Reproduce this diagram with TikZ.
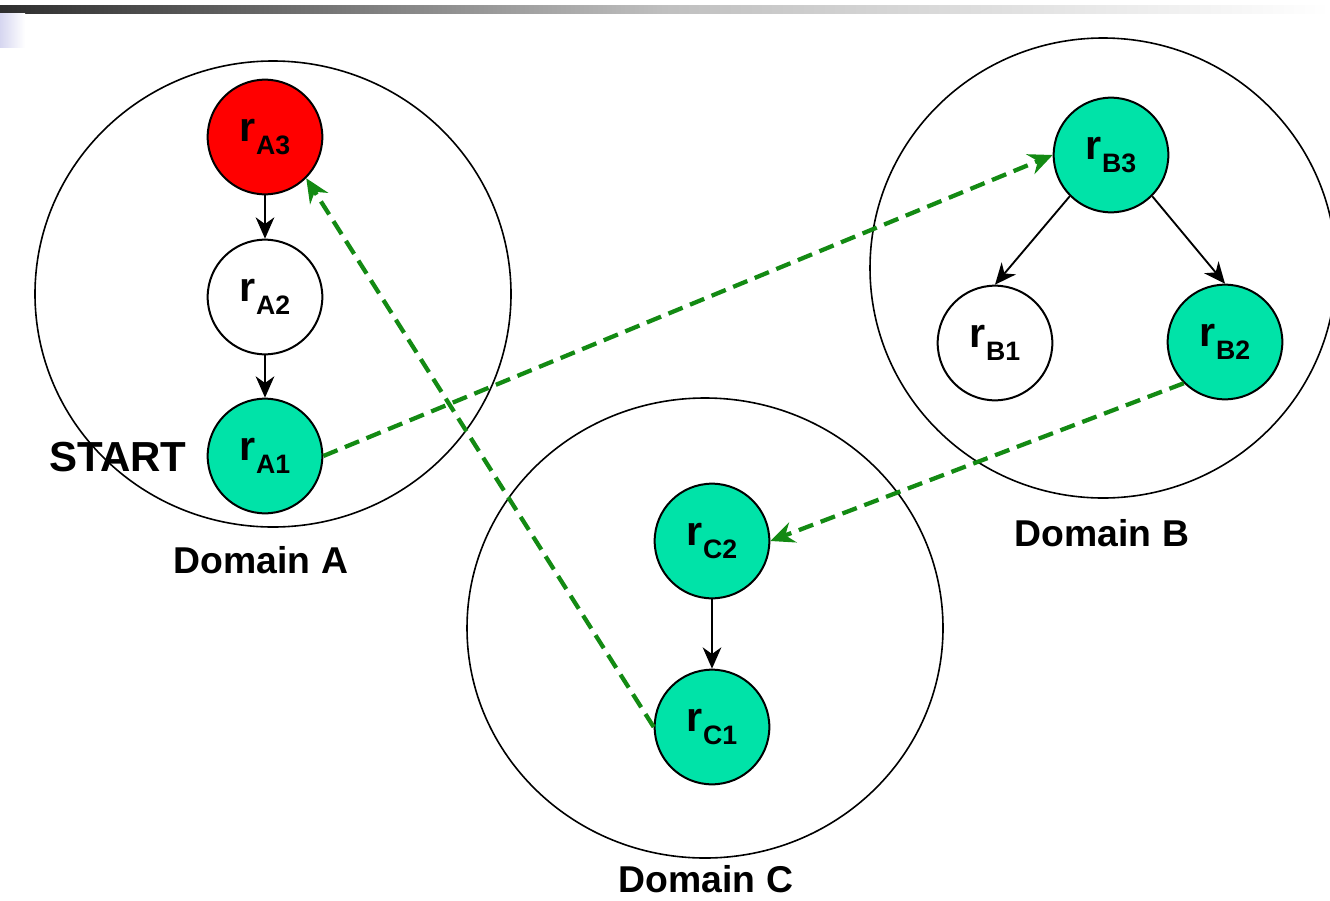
\documentclass[tikz,border=0pt]{standalone}
\usepackage{fontspec}
\setmainfont{Liberation Sans}
\usetikzlibrary{arrows.meta}
\definecolor{nodegreen}{HTML}{00E3A8}
\definecolor{dashgreen}{HTML}{138A13}
\definecolor{lav}{HTML}{D6D6F0}
\newcommand{\rlab}[1]{\fontsize{31}{31}\selectfont r\raisebox{-10pt}{\fontsize{20}{20}\selectfont #1}}
\tikzset{
  res/.style={circle, draw, line width=1.5pt, minimum size=86pt, inner sep=0pt, font=\bfseries},
  act/.style={res, fill=nodegreen},
  fail/.style={res, fill=red},
  domring/.style={draw, line width=1.2pt},
  dlabel/.style={font=\bfseries\fontsize{28}{28}\selectfont, inner sep=0pt},
  tree/.style={line width=1.4pt, -{Stealth[length=16pt, width=14pt, inset=5pt]}},
  jump/.style={line width=3.2pt, dashgreen, dash pattern=on 11.5pt off 6pt, -{Stealth[length=18pt, width=16pt, inset=6pt]}}
}
\begin{document}
\begin{tikzpicture}[x=0.75pt, y=-0.75pt]
\useasboundingbox (0,0) rectangle (1330,900);
% header decoration
\shade[left color=black!82, right color=white, middle color=black!25] (0,5) rectangle (1330,13);
\shade[left color=lav, right color=white] (0,13) rectangle (25,47);
% domains
\draw[domring] (273,294) ellipse [x radius=238, y radius=233];
\draw[domring] (1103,268) ellipse [x radius=233, y radius=230];
\draw[domring] (705,628) ellipse [x radius=238, y radius=230];
% nodes
\node[fail] (a3) at (265,137) {\rlab{A3}};
\node[res]  (a2) at (265,297) {\rlab{A2}};
\node[act]  (a1) at (265,456) {\rlab{A1}};
\node[act]  (b3) at (1111,155) {\rlab{B3}};
\node[res]  (b1) at (995,343) {\rlab{B1}};
\node[act]  (b2) at (1225,342) {\rlab{B2}};
\node[act]  (c2) at (712,541) {\rlab{C2}};
\node[act]  (c1) at (712,727) {\rlab{C1}};
% labels
\node[font=\bfseries\fontsize{31.5}{31.5}\selectfont, inner sep=0pt] (start) at (118,457) {START};
\node[dlabel] (la) at (261,560) {Domain A};
\node[dlabel] (lb) at (1102,533) {Domain B};
\node[dlabel] (lc) at (706,879) {Domain C};
% tree edges
\draw[tree] (a3) -- (a2);
\draw[tree] (a2) -- (a1);
\draw[tree] (b3.225) -- (b1.north);
\draw[tree] (b3.315) -- (b2.north);
\draw[tree] (c2) -- (c1);
% cross-domain jumps
\draw[jump] (a1.east) -- (b3.west);
\draw[jump] (b2.225) -- (c2.east);
\draw[jump] (c1.west) -- (a3.south east);
\end{tikzpicture}
\end{document}
